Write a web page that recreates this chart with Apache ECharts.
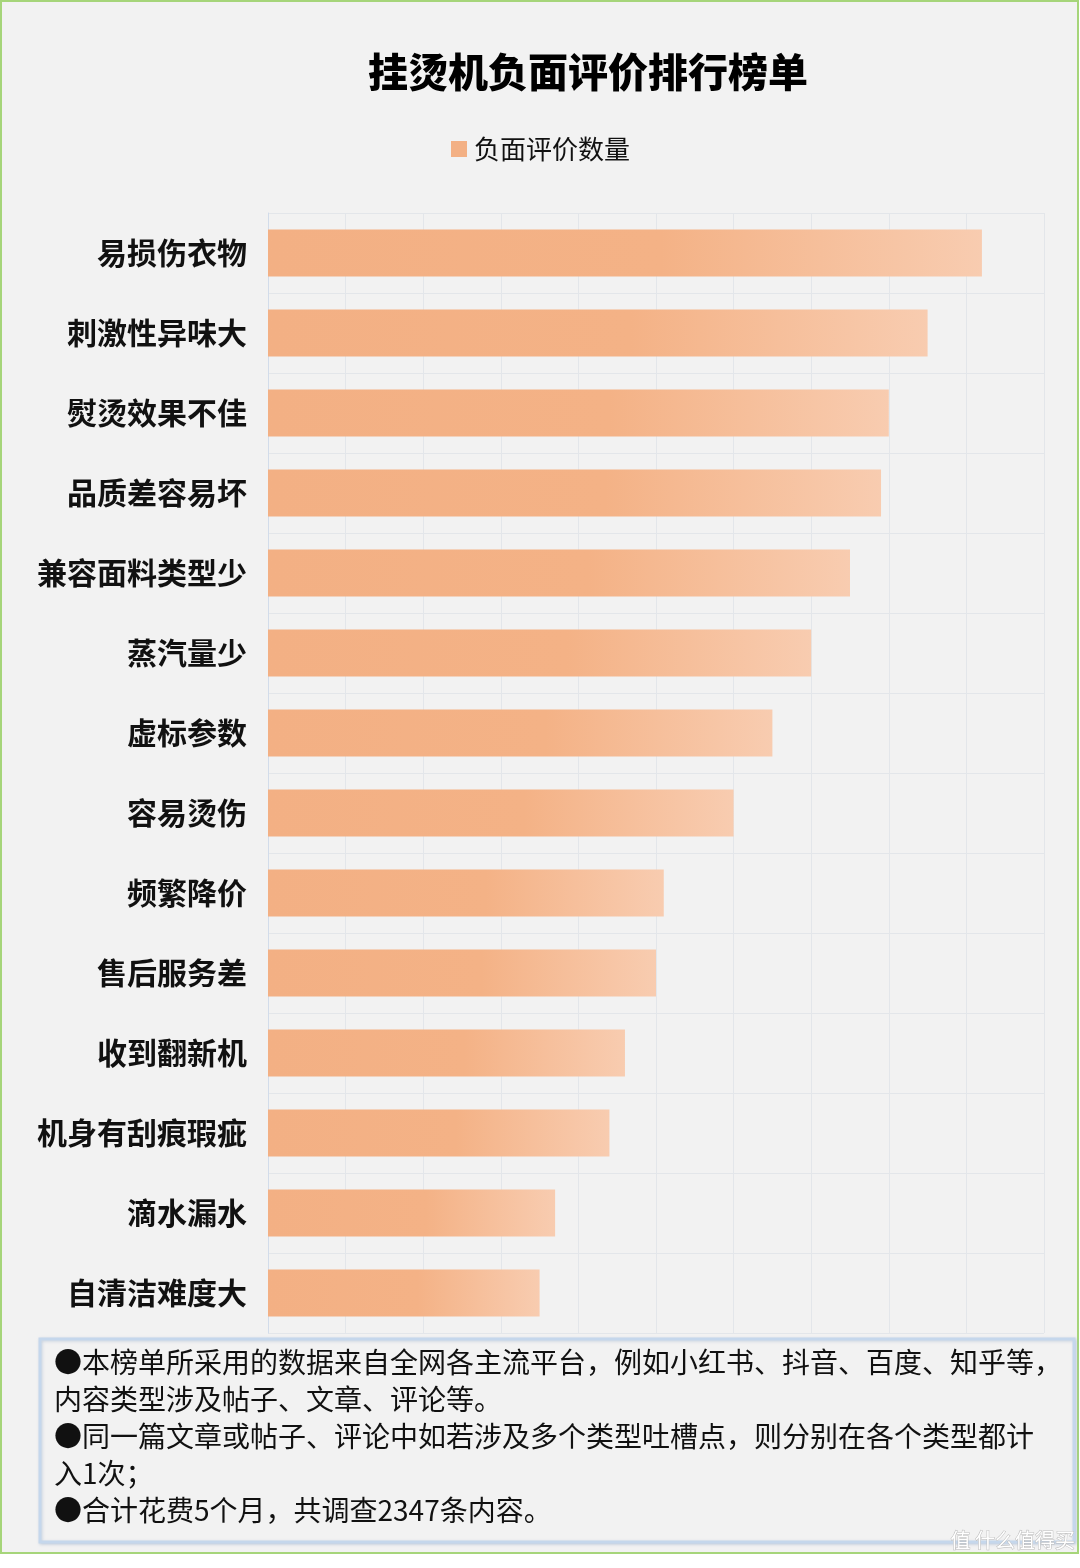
<!DOCTYPE html>
<html>
<head>
<meta charset="utf-8">
<style>
  html, body { margin: 0; padding: 0; background: #fff; }
  #chart { width: 1080px; height: 1568px; }
</style>
<script src="https://cdn.jsdelivr.net/npm/echarts@6/dist/echarts.min.js"></script>
</head>
<body>
<div id="chart"></div>
<script>
const categories = [
  "易损伤衣物", "刺激性异味大", "熨烫效果不佳", "品质差容易坏", "兼容面料类型少",
  "蒸汽量少", "虚标参数", "容易烫伤", "频繁降价", "售后服务差",
  "收到翻新机", "机身有刮痕瑕疵", "滴水漏水", "自清洁难度大"
];
const negativeCounts = [920, 850, 800, 790, 750, 700, 650, 600, 510, 500, 460, 440, 370, 350];
const seriesName = "负面评价数量";
const notes = [
  "●本榜单所采用的数据来自全网各主流平台，例如小红书、抖音、百度、知乎等，",
  "内容类型涉及帖子、文章、评论等。",
  "●同一篇文章或帖子、评论中如若涉及多个类型吐槽点，则分别在各个类型都计",
  "入1次；",
  "●合计花费5个月，共调查2347条内容。"
];

const FONT = "'Noto Sans CJK SC', 'Noto Sans', sans-serif";
const barGradient = {
  type: "linear", x: 0, y: 0, x2: 1, y2: 0,
  colorStops: [
    { offset: 0, color: "#F3B084" },
    { offset: 0.55, color: "#F4B286" },
    { offset: 1, color: "#F8CCB0" }
  ]
};

const chart = echarts.init(document.getElementById("chart"));

const option = {
  backgroundColor: "#fff",
  animation: false,
  graphic: [
    {
      type: "rect", z: -10,
      shape: { x: 1, y: 1, width: 1077, height: 1552 },
      style: { fill: "#F2F2F2", stroke: "#A6D57A", lineWidth: 2 }
    },
    {
      type: "rect", z: 10,
      shape: { x: 40, y: 1339, width: 1034, height: 203 },
      style: {
        fill: "#F2F2F2", stroke: "#C5D7EC", lineWidth: 3,
        shadowColor: "rgba(150,170,200,0.45)", shadowBlur: 3, shadowOffsetX: 1, shadowOffsetY: 1
      }
    },
    {
      type: "text", z: 11, left: 54, top: 1344,
      style: {
        text: notes.join("\n"),
        font: "28px " + FONT,
        fill: "#111",
        lineHeight: 37
      }
    },
    {
      type: "text", z: 12, left: 950, top: 1530,
      style: {
        text: "值 什么值得买",
        font: "20px " + FONT,
        fill: "#fff",
        stroke: "#bbb",
        lineWidth: 1
      }
    }
  ],
  title: {
    text: "挂烫机负面评价排行榜单",
    left: 363,
    top: 47,
    textStyle: { fontFamily: FONT, fontSize: 40, fontWeight: 900, color: "#000" }
  },
  legend: {
    left: 446,
    top: 131,
    icon: "rect",
    itemWidth: 16,
    itemHeight: 16,
    textStyle: { fontFamily: FONT, fontSize: 26, color: "#111", padding: [0, 0, 0, 2] },
    data: [{ name: seriesName, itemStyle: { color: "#F3B084" } }]
  },
  grid: { left: 268, right: 36, top: 213, bottom: 235, containLabel: false },
  xAxis: {
    type: "value",
    min: 0,
    max: 1000,
    interval: 100,
    axisLabel: { show: false },
    axisLine: { show: false },
    axisTick: { show: false },
    splitLine: { lineStyle: { color: "#E3E6EA", width: 1 } }
  },
  yAxis: {
    type: "category",
    inverse: true,
    data: categories,
    axisTick: { show: false },
    axisLine: { lineStyle: { color: "#D2DCEA", width: 1 } },
    axisLabel: {
      margin: 21,
      fontFamily: FONT,
      fontSize: 30,
      fontWeight: "bold",
      color: "#111"
    },
    splitLine: { show: true, lineStyle: { color: "#E3E6EA", width: 1 } }
  },
  series: [
    {
      name: seriesName,
      type: "bar",
      barWidth: 47,
      data: negativeCounts,
      itemStyle: { color: barGradient }
    }
  ]
};

chart.setOption(option);
</script>
</body>
</html>
